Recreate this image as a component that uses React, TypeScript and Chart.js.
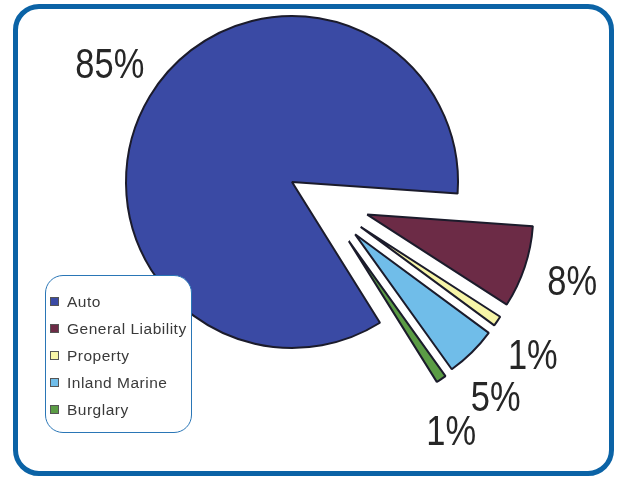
import React, { useEffect, useRef } from "react";
import { Chart, registerables } from "chart.js";

Chart.register(...registerables);

// ---- data ----
const categories = ["Auto", "General Liability", "Property", "Inland Marine", "Burglary"];
const shares = [85, 8, 1, 5, 1];
const shareLabels = ["85%", "8%", "1%", "5%", "1%"];

// ---- styles ----
const sliceColors = ["#3a4aa4", "#6c2b46", "#f7f5a8", "#70bde9", "#5b9c45"];
const sliceBorder = "#1b1b2b";
const EXPLODE = 82; // px the minor slices are pulled out
const SPREAD = 0.6; // how tightly the pulled-out slices fan together
const LABEL_GAP = 50;

function sliceShift(meta: any, i: number) {
  if (i === 0) return { dx: 0, dy: 0 };
  const arcs = meta.data;
  const gStart = arcs[1].startAngle;
  const gEnd = arcs[arcs.length - 1].endAngle;
  const gMid = (gStart + gEnd) / 2;
  const a = arcs[i];
  const mid = (a.startAngle + a.endAngle) / 2;
  const dir = gMid + (mid - gMid) * SPREAD;
  return { dx: Math.cos(dir) * EXPLODE, dy: Math.sin(dir) * EXPLODE };
}

const explodePlugin = {
  id: "explodeSlices",
  beforeDatasetDraw(chart: any, args: any) {
    const meta = args.meta;
    const ctx = chart.ctx;
    meta.data.forEach((arc: any, i: number) => {
      const { dx, dy } = sliceShift(meta, i);
      ctx.save();
      ctx.translate(dx, dy);
      arc.draw(ctx);
      ctx.restore();
    });
    return false;
  },
};

const labelPlugin = {
  id: "shareLabels",
  afterDatasetsDraw(chart: any) {
    const meta = chart.getDatasetMeta(0);
    const ctx = chart.ctx;
    meta.data.forEach((arc: any, i: number) => {
      const mid = (arc.startAngle + arc.endAngle) / 2 + (1.5 * Math.PI) / 180;
      const r = arc.outerRadius + (i === 0 ? 0 : EXPLODE) + LABEL_GAP;
      const x = arc.x + Math.cos(mid) * r;
      const y = arc.y + Math.sin(mid) * r;
      ctx.save();
      ctx.translate(x, y);
      ctx.scale(0.82, 1);
      ctx.font = "42px 'Liberation Sans', Arial, sans-serif";
      ctx.fillStyle = "#262626";
      ctx.textAlign = "center";
      ctx.textBaseline = "middle";
      ctx.fillText(shareLabels[i], 0, 0);
      ctx.restore();
    });
  },
};

export default function App() {
  const canvasRef = useRef<HTMLCanvasElement | null>(null);

  useEffect(() => {
    if (!canvasRef.current) return;
    const chart = new Chart(canvasRef.current, {
      type: "pie",
      data: {
        labels: categories,
        datasets: [
          {
            data: shares,
            backgroundColor: sliceColors,
            borderColor: sliceBorder,
            borderWidth: 2,
          },
        ],
      },
      options: {
        responsive: false,
        animation: false,
        rotation: 148,
        radius: 166,
        layout: { padding: { left: 0, right: 36, top: 0, bottom: 113 } },
        plugins: {
          legend: { display: false },
          tooltip: { enabled: false },
        },
        events: [],
      },
      plugins: [explodePlugin, labelPlugin],
    } as any);
    return () => chart.destroy();
  }, []);

  return (
    <div style={{ position: "absolute", left: 0, top: 0, width: 620, height: 477, background: "#ffffff", overflow: "hidden" }}>
      <div
        style={{
          position: "absolute",
          left: 13,
          top: 4,
          width: 601,
          height: 472,
          boxSizing: "border-box",
          border: "5px solid #0b63a6",
          borderRadius: 26,
        }}
      />
      <canvas
        ref={canvasRef}
        width={620}
        height={477}
        style={{ position: "absolute", left: 0, top: 0, width: 620, height: 477 }}
      />
      <div
        style={{
          position: "absolute",
          left: 45,
          top: 275,
          width: 147,
          height: 158,
          boxSizing: "border-box",
          border: "1.5px solid #2a76b6",
          borderRadius: 18,
          background: "#ffffff",
          overflow: "hidden",
          fontFamily: "'Liberation Sans', Arial, sans-serif",
          fontSize: 15.5,
          letterSpacing: 0.5,
          color: "#3a3a3a",
        }}
      >
        {categories.map((c, i) => (
          <div
            key={c}
            style={{
              position: "absolute",
              left: 4,
              top: 25.5 + 27 * i - 9,
              height: 18,
              display: "flex",
              alignItems: "center",
              whiteSpace: "nowrap",
            }}
          >
            <span
              style={{
                display: "inline-block",
                width: 9,
                height: 9,
                boxSizing: "border-box",
                background: sliceColors[i],
                border: "1px solid #555",
                marginRight: 8,
              }}
            />
            <span>{c}</span>
          </div>
        ))}
      </div>
    </div>
  );
}
